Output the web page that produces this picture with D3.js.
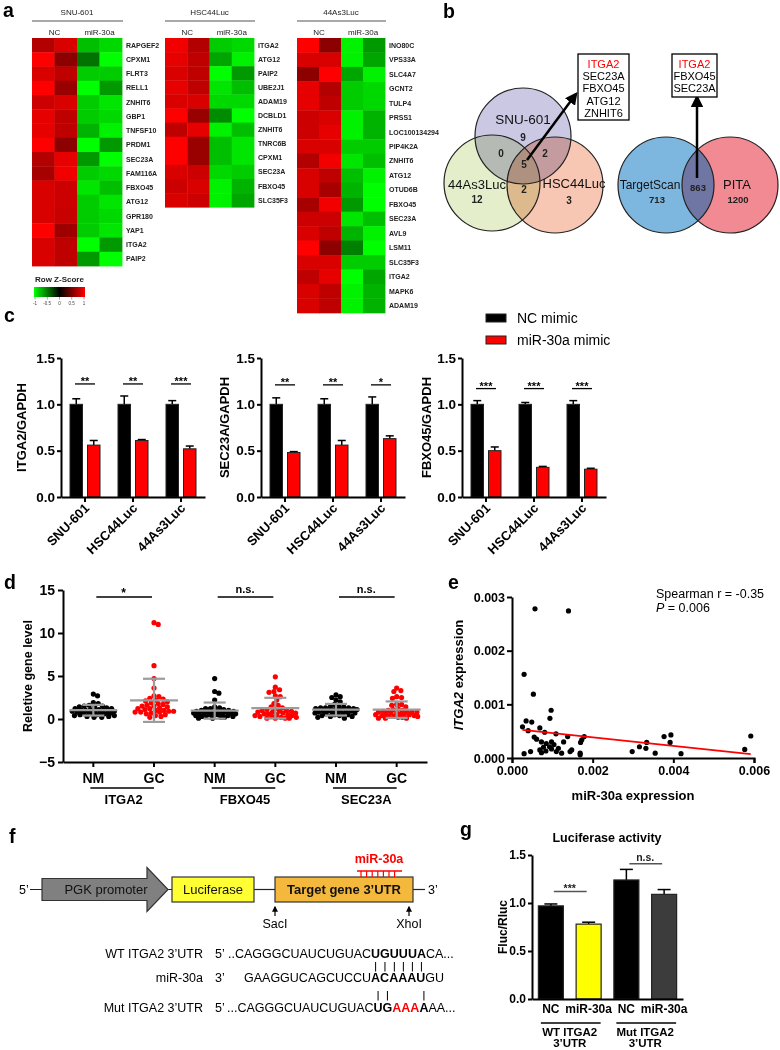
<!DOCTYPE html>
<html><head><meta charset="utf-8">
<script src="https://cdn.jsdelivr.net/npm/d3@7"></script>
<style>body{margin:0;background:#fff}svg{display:block}</style>
</head><body><svg id="fig" width="780" height="1050"></svg>
<script>
// ================= DATA =================
const heatGroups = ["NC", "miR-30a"];
const snuGenes = ["RAPGEF2","CPXM1","FLRT3","RELL1","ZNHIT6","GBP1","TNFSF10","PRDM1","SEC23A","FAM116A","FBXO45","ATG12","GPR180","YAP1","ITGA2","PAIP2"];
const snuZ = [[0.70,0.85,-0.75,-0.85],[1.00,0.55,-0.45,-1.00],[0.85,0.75,-0.80,-0.80],[1.00,0.60,-1.00,-0.60],[0.80,0.85,-0.80,-0.90],[0.90,0.75,-0.80,-0.85],[0.90,0.75,-0.70,-0.95],[1.00,0.55,-1.00,-0.60],[0.70,0.90,-0.60,-1.00],[0.65,0.95,-0.80,-0.85],[0.85,0.80,-0.90,-0.75],[0.85,0.80,-0.80,-0.90],[0.85,0.78,-0.80,-0.85],[1.00,0.62,-0.80,-0.90],[0.85,0.75,-1.00,-0.60],[0.85,0.75,-0.60,-1.00]];
const hscGenes = ["ITGA2","ATG12","PAIP2","UBE2J1","ADAM19","DCBLD1","ZNHIT6","TNRC6B","CPXM1","SEC23A","FBXO45","SLC35F3"];
const hscZ = [[0.95,0.70,-0.80,-0.85],[0.90,0.75,-0.65,-0.95],[0.85,0.75,-1.00,-0.60],[0.90,0.75,-0.90,-0.75],[0.85,0.85,-0.85,-0.85],[1.00,0.60,-0.55,-1.00],[0.75,0.90,-0.95,-0.75],[1.00,0.60,-0.75,-0.90],[1.00,0.60,-0.75,-0.90],[0.85,0.80,-0.85,-0.80],[0.80,0.85,-0.95,-0.70],[0.85,0.80,-0.95,-0.65]];
const as3Genes = ["INO80C","VPS33A","SLC4A7","GCNT2","TULP4","PRSS1","LOC100134294","PIP4K2A","ZNHIT6","ATG12","OTUD6B","FBXO45","SEC23A","AVL9","LSM11","SLC35F3","ITGA2","MAPK6","ADAM19"];
const as3Z = [[1.00,0.55,-0.95,-0.60],[0.85,0.85,-0.95,-0.65],[0.55,1.00,-0.65,-0.95],[0.90,0.70,-0.80,-0.85],[0.90,0.75,-0.80,-0.85],[0.80,0.85,-0.95,-0.70],[0.80,0.90,-0.95,-0.70],[0.85,0.85,-0.80,-0.80],[0.70,0.95,-0.90,-0.75],[0.85,0.75,-0.75,-0.95],[0.85,0.65,-0.70,-1.00],[0.65,0.95,-0.60,-1.00],[0.80,0.80,-0.90,-0.75],[0.85,0.75,-0.70,-0.95],[1.00,0.55,-0.50,-1.00],[0.85,0.85,-0.80,-0.80],[0.75,0.90,-1.00,-0.65],[0.85,0.75,-0.95,-0.70],[0.85,0.75,-0.95,-0.70]];
const zTicks = [-1,-0.5,0,0.5,1];

const vennSets = ["SNU-601","44As3Luc","HSC44Luc"];
const vennCounts = {snu:9, as3:12, hsc:3, snu_as3:0, snu_hsc:2, as3_hsc:2, all:5};
const commonGenes = ["ITGA2","SEC23A","FBXO45","ATG12","ZNHIT6"];
const dbNames = ["TargetScan","PITA"];
const dbCounts = {targetscan:713, pita:1200, both:863};
const predictedGenes = ["ITGA2","FBXO45","SEC23A"];

const cellLines = ["SNU-601","HSC44Luc","44As3Luc"];
const qGenes = ["ITGA2","SEC23A","FBXO45"];
const ncMimic  = [[1.00,1.00,1.00],[1.00,1.00,1.00],[1.00,1.00,1.00]];
const ncErr    = [[0.06,0.09,0.04],[0.07,0.06,0.08],[0.04,0.02,0.04]];
const mirMimic = [[0.56,0.61,0.52],[0.48,0.56,0.63],[0.50,0.32,0.30]];
const mirErr   = [[0.05,0.01,0.03],[0.01,0.05,0.03],[0.04,0.01,0.01]];
const qStars   = [["**","**","***"],["**","**","*"],["***","***","***"]];
const legendLabels = ["NC mimic","miR-30a mimic"];

const tissueGenes = ["ITGA2","FBXO45","SEC23A"];
const tissueTypes = ["NM","GC"];
const tissueSig = ["*","n.s.","n.s."];
const nmITGA2 = [2.9,2.7,1.9,1.8,1.6,1.5,1.5,1.4,1.4,1.3,1.2,1.2,1.1,1.1,1.0,1.0,1.0,0.9,0.9,0.9,0.8,0.8,0.8,0.7,0.7,0.7,0.6,0.6,0.5,0.5,0.4,0.4,0.3,0.3,0.2,0.2];
const gcITGA2 = [11.2,11.0,6.2,4.7,3.6,2.7,2.6,2.4,2.3,2.2,2.1,2.0,1.9,1.8,1.7,1.6,1.5,1.4,1.3,1.2,1.1,1.0,1.0,0.9,0.9,0.8,0.8,0.7,0.6,0.5,0.4,0.3,0.2,1.5,1.2,0.8];
const nmFBXO45 = [4.7,3.2,3.0,2.2,1.4,1.3,1.2,1.1,1.0,1.0,0.9,0.9,0.9,0.8,0.8,0.8,0.7,0.7,0.7,0.6,0.6,0.6,0.5,0.5,0.5,0.4,0.4,0.4,0.3,0.3,0.2,0.2,0.1,0.1,1.2,0.9];
const gcFBXO45 = [4.9,3.7,3.4,3.2,3.1,2.7,2.6,2.2,1.8,1.6,1.4,1.3,1.2,1.1,1.0,1.0,0.9,0.9,0.8,0.8,0.7,0.7,0.6,0.6,0.5,0.5,0.4,0.4,0.3,0.3,0.2,0.2,0.1,0.1,0.1,0.1];
const nmSEC23A = [2.8,2.6,2.5,2.2,2.0,1.7,1.4,1.4,1.3,1.3,1.3,1.2,1.2,1.1,1.1,1.0,1.0,0.9,0.9,0.9,0.8,0.8,0.8,0.7,0.7,0.6,0.6,0.5,0.5,0.4,0.4,0.3,0.3,0.2,0.1,1.4];
const gcSEC23A = [3.6,3.3,3.2,2.6,2.5,2.4,1.7,1.7,1.6,1.4,1.2,1.1,1.0,1.0,0.9,0.9,0.8,0.8,0.7,0.7,0.6,0.6,0.5,0.5,0.4,0.4,0.3,0.3,0.2,0.2,0.1,0.1,0.8,0.6,0.3,0.1];

const mir30aExpr = [0.00057,0.00140,0.00030,0.00053,0.00097,0.00094,0.00035,0.00049,0.00026,0.00040,0.00069,0.00081,0.00109,0.00138,0.00179,0.00173,0.00170,0.00128,0.00055,0.00061,0.00073,0.00085,0.00098,0.00104,0.00093,0.00078,0.00069,0.00084,0.00098,0.00110,0.00123,0.00144,0.00148,0.00169,0.00169,0.00046,0.00030,0.00073,0.00115,0.00298,0.00316,0.00332,0.00334,0.00355,0.00377,0.00394,0.00392,0.00419,0.00577,0.00592];
const itga2Expr  = [0.00278,0.00274,0.00156,0.00119,0.00089,0.00074,0.00069,0.00067,0.00058,0.00051,0.00056,0.00048,0.00045,0.00040,0.00040,0.00034,0.00029,0.00030,0.00039,0.00035,0.00030,0.00027,0.00030,0.00025,0.00021,0.00020,0.00015,0.00013,0.00017,0.00012,0.00009,0.00012,0.00015,0.00009,0.00006,0.00012,0.00008,0.00010,0.00018,0.00012,0.00021,0.00018,0.00029,0.00009,0.00040,0.00043,0.00029,0.00008,0.00016,0.00041];
const spearman = {r:-0.35, p:0.006};
const fit = {slope:-0.0794, intercept:0.000544};

const lucLabels = ["NC","miR-30a","NC","miR-30a"];
const lucGroups = [["WT ITGA2","3’UTR"],["Mut ITGA2","3’UTR"]];
const lucMean = [0.97,0.78,1.24,1.09];
const lucErr  = [0.02,0.02,0.11,0.05];
const lucSig  = ["***","n.s."];

const constructParts = ["PGK promoter","Luciferase","Target gene 3’UTR"];
const seqLabels = ["WT ITGA2 3’UTR","miR-30a","Mut ITGA2 3’UTR"];

// ================= DRAW =================
const FONT = "Arial, 'Liberation Sans', Helvetica, sans-serif";
const svg = d3.select("#fig").attr("font-family", FONT);
function txt(g, x, y, s, o = {}) {
  return g.append("text").attr("x", x).attr("y", y).text(s)
    .attr("font-size", o.size || 12).attr("font-weight", o.weight || "normal")
    .attr("text-anchor", o.anchor || "start").attr("fill", o.fill || "#000");
}
function styleAxis(sel, fs, sw = 2) {
  sel.select(".domain").attr("stroke", "#000").attr("stroke-width", sw);
  sel.selectAll(".tick line").attr("stroke", "#000").attr("stroke-width", sw);
  sel.selectAll(".tick text").attr("font-family", FONT).attr("font-size", fs).attr("font-weight", "bold").attr("fill", "#000");
}
// panel letters
[["a",3,17],["b",443,18],["c",4,322],["d",4,589],["e",448,589],["f",9,843],["g",460,836]].forEach(([l,x,y]) => txt(svg, x, y, l, {size: 19.5, weight: "bold"}));

// ---------- a: heatmaps ----------
const heatColor = d3.scaleLinear().domain([-1,0,1]).range(["#00ff00","#000000","#ff0000"]).clamp(true);
function drawHeat(title, genes, z, x0, x1, rowH) {
  const g = svg.append("g");
  const x = d3.scaleBand().domain(d3.range(4)).range([x0, x1]);
  const y = d3.scaleBand().domain(genes).range([38, 38 + genes.length * rowH]);
  const cells = z.flatMap((row, i) => row.map((v, j) => ({gene: genes[i], j, v})));
  g.selectAll("rect").data(cells).join("rect")
    .attr("x", d => x(d.j)).attr("y", d => y(d.gene))
    .attr("width", x.bandwidth() + 0.4).attr("height", y.bandwidth() + 0.4)
    .attr("fill", d => heatColor(d.v));
  g.selectAll("text.gl").data(genes).join("text").attr("class", "gl")
    .attr("x", x1 + 4).attr("y", d => y(d) + y.bandwidth() / 2 + 2.5).text(d => d)
    .attr("font-size", 7).attr("font-weight", "bold").attr("fill", "#222");
  txt(g, (x0 + x1) / 2, 15, title, {size: 8, anchor: "middle", fill: "#222"});
  g.append("line").attr("x1", x0).attr("x2", x1 + 1).attr("y1", 21).attr("y2", 21).attr("stroke", "#555").attr("stroke-width", 1.2);
  heatGroups.forEach((h, k) => txt(g, x(2 * k) + x.bandwidth(), 35, h, {size: 8, anchor: "middle", fill: "#222"}));
}
drawHeat("SNU-601", snuGenes, snuZ, 32, 122, 14.25);
drawHeat("HSC44Luc", hscGenes, hscZ, 165, 254, 14.1);
drawHeat("44As3Luc", as3Genes, as3Z, 297, 385, 14.47);
// color key
{
  const defs = svg.append("defs");
  const grad = defs.append("linearGradient").attr("id", "zgrad");
  zTicks.forEach(t => grad.append("stop").attr("offset", (t + 1) / 2).attr("stop-color", heatColor(t)));
  const kx = d3.scaleLinear().domain([-1, 1]).range([35, 84]);
  txt(svg, 35, 282, "Row Z-Score", {size: 8, weight: "bold", fill: "#222"});
  svg.append("rect").attr("x", 34).attr("y", 287).attr("width", 51).attr("height", 10).attr("fill", "url(#zgrad)");
  zTicks.forEach(t => {
    svg.append("line").attr("x1", kx(t)).attr("x2", kx(t)).attr("y1", 297).attr("y2", 299.5).attr("stroke", "#444").attr("stroke-width", 0.5);
    txt(svg, kx(t), 304.5, String(t), {size: 4.5, anchor: "middle", fill: "#444"});
  });
}

// ---------- b: Venn diagrams ----------
{
  const g = svg.append("g");
  const defs = svg.append("defs");
  const mk = defs.append("marker").attr("id", "arr").attr("viewBox", "0 0 10 10").attr("refX", 8).attr("refY", 5)
    .attr("markerWidth", 5).attr("markerHeight", 5).attr("orient", "auto-start-reverse");
  mk.append("path").attr("d", "M0,0 L10,5 L0,10 z").attr("fill", "#000");
  const R = 48;
  const circ = [{name: vennSets[0], cx: 523, cy: 136, fill: "#cbc8e4"},
                {name: vennSets[1], cx: 492, cy: 183, fill: "#e4eecb"},
                {name: vennSets[2], cx: 555, cy: 185, fill: "#f7c7b3"}];
  g.selectAll("circle.v").data(circ).join("circle").attr("class", "v")
    .attr("cx", d => d.cx).attr("cy", d => d.cy).attr("r", R).attr("fill", d => d.fill)
    .style("mix-blend-mode", "multiply");
  g.selectAll("circle.vo").data(circ).join("circle").attr("class", "vo")
    .attr("cx", d => d.cx).attr("cy", d => d.cy).attr("r", R).attr("fill", "none").attr("stroke", "#222").attr("stroke-width", 1.2);
  txt(g, 523, 124, vennSets[0], {size: 13.5, anchor: "middle", fill: "#111"});
  txt(g, 477, 189, vennSets[1], {size: 13, anchor: "middle", fill: "#111"});
  txt(g, 574, 188, vennSets[2], {size: 13, anchor: "middle", fill: "#111"});
  const nums = [[vennCounts.snu, 523, 141], [vennCounts.as3, 477, 203], [vennCounts.hsc, 569, 204],
                [vennCounts.snu_as3, 501, 157], [vennCounts.snu_hsc, 545, 157], [vennCounts.as3_hsc, 524, 193], [vennCounts.all, 524, 168]];
  nums.forEach(([n, x, y]) => txt(g, x, y, n, {size: 10, anchor: "middle", weight: "bold", fill: "#222"}));
  g.append("line").attr("x1", 527).attr("y1", 160).attr("x2", 576).attr("y2", 94).attr("stroke", "#000").attr("stroke-width", 2.5).attr("marker-end", "url(#arr)");
  g.append("rect").attr("x", 578).attr("y", 54).attr("width", 51).attr("height", 66).attr("fill", "#fff").attr("stroke", "#000").attr("stroke-width", 1.3);
  commonGenes.forEach((s, i) => txt(g, 603.5, 67.5 + i * 12.4, s, {size: 11, anchor: "middle", fill: i === 0 ? "#ff0000" : "#000"}));

  // TargetScan / PITA
  const ts = {cx: 666, cy: 185}, pt = {cx: 730, cy: 185};
  defs.append("clipPath").attr("id", "tsClip").append("circle").attr("cx", ts.cx).attr("cy", ts.cy).attr("r", R);
  g.append("circle").attr("cx", ts.cx).attr("cy", ts.cy).attr("r", R).attr("fill", "#7db7df");
  g.append("circle").attr("cx", pt.cx).attr("cy", pt.cy).attr("r", R).attr("fill", "#f28a93");
  g.append("circle").attr("cx", pt.cx).attr("cy", pt.cy).attr("r", R).attr("fill", "#6f76a3").attr("clip-path", "url(#tsClip)");
  [ts, pt].forEach(c => g.append("circle").attr("cx", c.cx).attr("cy", c.cy).attr("r", R).attr("fill", "none").attr("stroke", "#222").attr("stroke-width", 1.2));
  txt(g, 650, 189, dbNames[0], {size: 12, anchor: "middle", fill: "#111"});
  txt(g, 737, 189, dbNames[1], {size: 13, anchor: "middle", fill: "#111"});
  txt(g, 657, 203, dbCounts.targetscan, {size: 9.5, anchor: "middle", weight: "bold", fill: "#222"});
  txt(g, 738, 203, dbCounts.pita, {size: 9.5, anchor: "middle", weight: "bold", fill: "#222"});
  txt(g, 698, 191, dbCounts.both, {size: 9.5, anchor: "middle", weight: "bold", fill: "#222"});
  g.append("line").attr("x1", 697).attr("y1", 178).attr("x2", 697).attr("y2", 97).attr("stroke", "#000").attr("stroke-width", 2.5).attr("marker-end", "url(#arr)");
  g.append("rect").attr("x", 672).attr("y", 54).attr("width", 45).attr("height", 43).attr("fill", "#fff").attr("stroke", "#000").attr("stroke-width", 1.3);
  predictedGenes.forEach((s, i) => txt(g, 694.5, 67.5 + i * 12.4, s, {size: 11, anchor: "middle", fill: i === 0 ? "#ff0000" : "#000"}));
}

// ---------- c: qPCR bars ----------
{
  const y = d3.scaleLinear().domain([0, 1.5]).range([497, 358]);
  const x0s = [61, 261, 462], ylabX = [21, 224, 426];
  qGenes.forEach((gene, gi) => {
    const g = svg.append("g");
    const x = d3.scaleBand().domain(cellLines).range([x0s[gi], x0s[gi] + 144]);
    const data = cellLines.map((c, ci) => ({c, nc: ncMimic[gi][ci], ncE: ncErr[gi][ci], mi: mirMimic[gi][ci], miE: mirErr[gi][ci], s: qStars[gi][ci]}));
    const bw = 12.5;
    const bars = data.flatMap(d => [{c: d.c, v: d.nc, e: d.ncE, off: -15, fill: "#000"}, {c: d.c, v: d.mi, e: d.miE, off: 2.5, fill: "#ff0000"}]);
    bars.forEach(b => {
      const cx = x(b.c) + x.bandwidth() / 2 + b.off + bw / 2;
      g.append("line").attr("x1", cx).attr("x2", cx).attr("y1", y(b.v)).attr("y2", y(b.v + b.e)).attr("stroke", "#000").attr("stroke-width", 1.5);
      g.append("line").attr("x1", cx - 4).attr("x2", cx + 4).attr("y1", y(b.v + b.e)).attr("y2", y(b.v + b.e)).attr("stroke", "#000").attr("stroke-width", 1.5);
    });
    g.selectAll("rect").data(bars).join("rect")
      .attr("x", b => x(b.c) + x.bandwidth() / 2 + b.off).attr("width", bw)
      .attr("y", b => y(b.v)).attr("height", b => y(0) - y(b.v))
      .attr("fill", b => b.fill).attr("stroke", "#222").attr("stroke-width", 1);
    const top = d3.max(data, d => Math.max(d.nc + d.ncE, d.mi + d.miE)) + 0.13;
    data.forEach(d => {
      const cx = x(d.c) + x.bandwidth() / 2;
      g.append("line").attr("x1", cx - 10).attr("x2", cx + 10).attr("y1", y(top)).attr("y2", y(top)).attr("stroke", "#000").attr("stroke-width", 1.3);
      txt(g, cx, y(top) + 1, d.s, {size: 11, anchor: "middle", weight: "bold"});
    });
    const ya = g.append("g").attr("transform", `translate(${x0s[gi]},0)`)
      .call(d3.axisLeft(y).tickValues([0, 0.5, 1, 1.5]).tickFormat(d3.format(".1f")).tickSize(4).tickPadding(2).tickSizeOuter(0));
    styleAxis(ya, 13.5);
    const xa = g.append("g").attr("transform", `translate(0,${y(0)})`)
      .call(d3.axisBottom(x).tickSize(5).tickSizeOuter(0).tickFormat(""));
    styleAxis(xa, 13);
    cellLines.forEach(c => {
      const cx = x(c) + x.bandwidth() / 2;
      g.append("text").attr("transform", `translate(${cx + 5},${y(0) + 12}) rotate(-45)`).attr("text-anchor", "end")
        .attr("font-size", 13).attr("font-weight", "bold").text(c);
    });
    g.append("text").attr("transform", `translate(${ylabX[gi] + 5},${(y(0) + y(1.5)) / 2}) rotate(-90)`).attr("text-anchor", "middle")
      .attr("font-size", 13).attr("font-weight", "bold").text(`${gene}/GAPDH`);
  });
  const lg = svg.append("g");
  ["#000", "#ff0000"].forEach((f, i) => {
    lg.append("rect").attr("x", 486).attr("y", 314 + i * 22).attr("width", 20).attr("height", 8).attr("fill", f).attr("stroke", "#222").attr("stroke-width", 1);
    txt(lg, 517, 323 + i * 21.5, legendLabels[i], {size: 14});
  });
}

// ---------- d: tissue scatter ----------
{
  const g = svg.append("g");
  const y = d3.scaleLinear().domain([-5, 15]).range([762, 590]);
  const cats = tissueGenes.flatMap(gn => tissueTypes.map(t => `${gn}|${t}`));
  const x = d3.scaleBand().domain(cats).range([63, 427]);
  const series = [nmITGA2, gcITGA2, nmFBXO45, gcFBXO45, nmSEC23A, gcSEC23A];
  const r = 2.6, maxOff = 21;
  const cand = d3.range(-maxOff, maxOff + 0.01, 0.7).sort((a, b) => Math.abs(a) - Math.abs(b));
  function swarm(vals) {
    const pts = vals.map(v => ({v, y: y(v)})).sort((a, b) => b.v - a.v);
    const placed = [], need = 2 * r * 0.85;
    pts.forEach(p => {
      let best = 0, bestD = -1;
      for (const o of cand) {
        const dmin = placed.length ? d3.min(placed, q => Math.hypot(q.x - o, q.y - p.y)) : Infinity;
        if (dmin >= need) { best = o; bestD = Infinity; break; }
        if (dmin > bestD) { bestD = dmin; best = o; }
      }
      p.x = best; placed.push(p);
    });
    return pts;
  }
  series.forEach((vals, i) => {
    const cx = x(cats[i]) + x.bandwidth() / 2;
    const col = i % 2 ? "#ff0000" : "#000";
    g.append("g").selectAll("circle").data(swarm(vals)).join("circle")
      .attr("cx", p => cx + p.x).attr("cy", p => p.y).attr("r", r).attr("fill", col);
    const m = d3.mean(vals), sd = d3.deviation(vals);
    const gs = g.append("g").attr("stroke", "#9c9c9c").attr("stroke-width", 2.2);
    gs.append("line").attr("x1", cx - 24).attr("x2", cx + 24).attr("y1", y(m)).attr("y2", y(m));
    gs.append("line").attr("x1", cx).attr("x2", cx).attr("y1", y(m - sd)).attr("y2", y(m + sd));
    [m - sd, m + sd].forEach(v => gs.append("line").attr("x1", cx - 11).attr("x2", cx + 11).attr("y1", y(v)).attr("y2", y(v)));
  });
  const ya = g.append("g").attr("transform", "translate(63,0)")
    .call(d3.axisLeft(y).tickValues([-5, 0, 5, 10, 15]).tickSize(5).tickPadding(3).tickSizeOuter(0));
  styleAxis(ya, 14);
  const xa = g.append("g").attr("transform", `translate(0,${y(-5)})`).call(d3.axisBottom(x).tickSize(5).tickSizeOuter(0).tickFormat(""));
  styleAxis(xa, 14);
  cats.forEach(c => txt(g, x(c) + x.bandwidth() / 2, 783, c.split("|")[1], {size: 14, weight: "bold", anchor: "middle"}));
  tissueGenes.forEach((gn, i) => {
    const a = x(`${gn}|NM`) + x.bandwidth() / 2, b = x(`${gn}|GC`) + x.bandwidth() / 2;
    g.append("line").attr("x1", a - 3).attr("x2", b).attr("y1", 788).attr("y2", 788).attr("stroke", "#000").attr("stroke-width", 1.3);
    txt(g, (a + b) / 2, 804, gn, {size: 13, weight: "bold", anchor: "middle"});
    g.append("line").attr("x1", a + 3).attr("x2", b - 2).attr("y1", 597).attr("y2", 597).attr("stroke", "#000").attr("stroke-width", 1.3);
    txt(g, (a + b) / 2, tissueSig[i] === "*" ? 597 : 592.5, tissueSig[i], {size: tissueSig[i] === "*" ? 12 : 11, weight: "bold", anchor: "middle"});
  });
  g.append("text").attr("transform", "translate(32,676) rotate(-90)").attr("text-anchor", "middle")
    .attr("font-size", 12.5).attr("font-weight", "bold").text("Reletive gene level");
}

// ---------- e: correlation ----------
{
  const g = svg.append("g");
  const x = d3.scaleLinear().domain([0, 0.006]).range([512, 754]);
  const y = d3.scaleLinear().domain([0, 0.003]).range([758, 597]);
  const xa = g.append("g").attr("transform", "translate(0,758)")
    .call(d3.axisBottom(x).tickValues([0, 0.002, 0.004, 0.006]).tickFormat(d3.format(".3f")).tickSize(5).tickPadding(3));
  styleAxis(xa, 12.5);
  const ya = g.append("g").attr("transform", "translate(512,0)")
    .call(d3.axisLeft(y).tickValues([0, 0.001, 0.002, 0.003]).tickFormat(d3.format(".3f")).tickSize(5).tickPadding(2).tickSizeOuter(0));
  styleAxis(ya, 12.5);
  const pts = mir30aExpr.map((v, i) => [v, itga2Expr[i]]);
  g.selectAll("circle").data(pts).join("circle").attr("cx", d => x(d[0])).attr("cy", d => y(d[1])).attr("r", 2.6).attr("fill", "#000");
  const ext = d3.extent(mir30aExpr);
  g.append("line").attr("x1", x(ext[0])).attr("x2", x(ext[1]))
    .attr("y1", y(fit.intercept + fit.slope * ext[0])).attr("y2", y(fit.intercept + fit.slope * ext[1]))
    .attr("stroke", "#ff0000").attr("stroke-width", 1.8);
  txt(g, 656, 598, `Spearman r = ${spearman.r}`, {size: 12.5});
  const pt = txt(g, 656, 612, "", {size: 12.5});
  pt.append("tspan").attr("font-style", "italic").text("P");
  pt.append("tspan").text(` = ${spearman.p}`);
  txt(g, 633, 800, "miR-30a expression", {size: 13, weight: "bold", anchor: "middle"});
  const yl = g.append("text").attr("transform", "translate(463,675) rotate(-90)").attr("text-anchor", "middle").attr("font-size", 13).attr("font-weight", "bold");
  yl.append("tspan").attr("font-style", "italic").text("ITGA2");
  yl.append("tspan").text(" expression");
}

// ---------- f: construct schematic ----------
{
  const g = svg.append("g");
  const cy = 889.5;
  txt(g, 19, cy + 4.5, "5’", {size: 12.5});
  g.append("line").attr("x1", 30).attr("x2", 172).attr("y1", cy).attr("y2", cy).attr("stroke", "#222").attr("stroke-width", 1.2);
  g.append("line").attr("x1", 254).attr("x2", 275).attr("y1", cy).attr("y2", cy).attr("stroke", "#222").attr("stroke-width", 1.2);
  g.append("line").attr("x1", 413).attr("x2", 425).attr("y1", cy).attr("y2", cy).attr("stroke", "#222").attr("stroke-width", 1.2);
  txt(g, 428, cy + 4.5, "3’", {size: 12.5});
  g.append("path").attr("d", `M42,${cy - 11} L147,${cy - 11} L147,${cy - 22} L168,${cy} L147,${cy + 22} L147,${cy + 11} L42,${cy + 11} Z`)
    .attr("fill", "#808080").attr("stroke", "#333").attr("stroke-width", 1.2);
  txt(g, 106, cy + 4.5, constructParts[0], {size: 13, anchor: "middle", fill: "#111"});
  g.append("rect").attr("x", 172).attr("y", cy - 12.5).attr("width", 82).attr("height", 25).attr("fill", "#ffff33").attr("stroke", "#333").attr("stroke-width", 1.2);
  txt(g, 213, cy + 4.5, constructParts[1], {size: 13, anchor: "middle", fill: "#111"});
  g.append("rect").attr("x", 275).attr("y", cy - 12.5).attr("width", 138).attr("height", 25).attr("fill", "#f3b83c").attr("stroke", "#333").attr("stroke-width", 1.2);
  txt(g, 344, cy + 4.5, constructParts[2], {size: 13, anchor: "middle", weight: "bold", fill: "#111"});
  txt(g, 379, 863, "miR-30a", {size: 12.5, anchor: "middle", weight: "bold", fill: "#ff0000"});
  g.append("line").attr("x1", 357).attr("x2", 402).attr("y1", 871).attr("y2", 871).attr("stroke", "#ff0000").attr("stroke-width", 1.6);
  d3.range(7).forEach(i => g.append("line").attr("x1", 361 + i * 5.6).attr("x2", 361 + i * 5.6).attr("y1", 871).attr("y2", 877).attr("stroke", "#ff0000").attr("stroke-width", 1.2));
  [["SacI", 275], ["XhoI", 409]].forEach(([s, xx]) => {
    g.append("line").attr("x1", xx).attr("x2", xx).attr("y1", 916).attr("y2", 907).attr("stroke", "#000").attr("stroke-width", 1.2).attr("marker-end", "url(#arr)");
    txt(g, xx, 928, s, {size: 12.5, anchor: "middle"});
  });
  const fs = 12.5;
  seqLabels.forEach((s, i) => txt(g, 203, [958, 982, 1012][i], s, {size: fs, anchor: "end"}));
  txt(g, 215, 958, "5’", {size: fs}); txt(g, 215, 982, "3’", {size: fs}); txt(g, 215, 1012, "5’", {size: fs});
  const wt = txt(g, 228, 958, "", {size: fs});
  wt.append("tspan").text("..CAGGGCUAUCUGUAC");
  const wtB = wt.append("tspan").attr("font-weight", "bold").text("UGUUUA");
  wt.append("tspan").text("CA...");
  const mut = txt(g, 227, 1012, "", {size: fs});
  mut.append("tspan").text("...CAGGGCUAUCUGUAC");
  const mB1 = mut.append("tspan").attr("font-weight", "bold").text("UG");
  mut.append("tspan").attr("font-weight", "bold").attr("fill", "#ff0000").text("AAA");
  const mB3 = mut.append("tspan").attr("font-weight", "bold").text("A");
  mut.append("tspan").text("AA...");
  const mir = txt(g, 0, 982, "", {size: fs});
  const mirPre = mir.append("tspan").text("GAAGGUCAGCUCCU");
  mir.append("tspan").attr("font-weight", "bold").text("ACAAAU");
  mir.append("tspan").text("GU");
  const wtStart = wtB.node().getStartPositionOfChar(0).x;
  mir.attr("x", wtStart - mirPre.node().getComputedTextLength());
  const charMid = (node, i) => (node.getStartPositionOfChar(i).x + node.getEndPositionOfChar(i).x) / 2;
  d3.range(6).forEach(i => {
    const xx = charMid(wtB.node(), i);
    g.append("line").attr("x1", xx).attr("x2", xx).attr("y1", 962).attr("y2", 971.5).attr("stroke", "#000").attr("stroke-width", 1);
  });
  [[mB1.node(), 0], [mB1.node(), 1], [mB3.node(), 0]].forEach(([n, i]) => {
    const xx = charMid(n, i);
    g.append("line").attr("x1", xx).attr("x2", xx).attr("y1", 991).attr("y2", 1000.5).attr("stroke", "#000").attr("stroke-width", 1);
  });
}

// ---------- g: luciferase ----------
{
  const g = svg.append("g");
  const y = d3.scaleLinear().domain([0, 1.5]).range([999, 855]);
  const x = d3.scaleBand().domain(d3.range(4)).range([532, 683]);
  const fills = ["#000", "#ffff00", "#000", "#3c3c3c"];
  const bw = 25;
  const cxs = d3.range(4).map(i => x(i) + x.bandwidth() / 2);
  lucMean.forEach((m, i) => {
    g.append("line").attr("x1", cxs[i]).attr("x2", cxs[i]).attr("y1", y(m)).attr("y2", y(m + lucErr[i])).attr("stroke", "#000").attr("stroke-width", 1.5);
    g.append("line").attr("x1", cxs[i] - 6.5).attr("x2", cxs[i] + 6.5).attr("y1", y(m + lucErr[i])).attr("y2", y(m + lucErr[i])).attr("stroke", "#000").attr("stroke-width", 1.5);
  });
  g.selectAll("rect").data(lucMean).join("rect")
    .attr("x", (d, i) => cxs[i] - bw / 2).attr("width", bw).attr("y", d => y(d)).attr("height", d => y(0) - y(d))
    .attr("fill", (d, i) => fills[i]).attr("stroke", "#222").attr("stroke-width", 1.2);
  const ya = g.append("g").attr("transform", "translate(532,0)")
    .call(d3.axisLeft(y).tickValues([0, 0.5, 1, 1.5]).tickFormat(d3.format(".1f")).tickSize(4).tickPadding(2).tickSizeOuter(0));
  styleAxis(ya, 12);
  const xa = g.append("g").attr("transform", "translate(0,999)").call(d3.axisBottom(x).tickSize(0).tickSizeOuter(0).tickFormat(""));
  styleAxis(xa, 12);
  lucLabels.forEach((l, i) => txt(g, cxs[i], 1013, l, {size: 12, weight: "bold", anchor: "middle"}));
  lucGroups.forEach((grp, k) => {
    const a = cxs[2 * k], b = cxs[2 * k + 1], mid = (a + b) / 2;
    g.append("line").attr("x1", a - 10).attr("x2", b + 12).attr("y1", 1023).attr("y2", 1023).attr("stroke", "#000").attr("stroke-width", 1.3);
    txt(g, mid, 1035.5, grp[0], {size: 11.5, weight: "bold", anchor: "middle"});
    txt(g, mid, 1046.5, grp[1], {size: 11.5, weight: "bold", anchor: "middle"});
    const top = d3.max([lucMean[2 * k] + lucErr[2 * k], lucMean[2 * k + 1] + lucErr[2 * k + 1]]);
    const ly = k === 0 ? y(top + 0.13) : y(top + 0.06);
    g.append("line").attr("x1", a + 3).attr("x2", b - 2).attr("y1", ly).attr("y2", ly).attr("stroke", "#555").attr("stroke-width", 1.5);
    txt(g, (a + b) / 2, lucSig[k] === "***" ? ly + 1 : ly - 2.5, lucSig[k], {size: 10.5, weight: "bold", anchor: "middle", fill: "#222"});
  });
  txt(g, 607, 842, "Luciferase activity", {size: 12.5, weight: "bold", anchor: "middle"});
  g.append("text").attr("transform", "translate(507,927) rotate(-90)").attr("text-anchor", "middle").attr("font-size", 12).attr("font-weight", "bold").text("Fluc/Rluc");
}
</script></body></html>
